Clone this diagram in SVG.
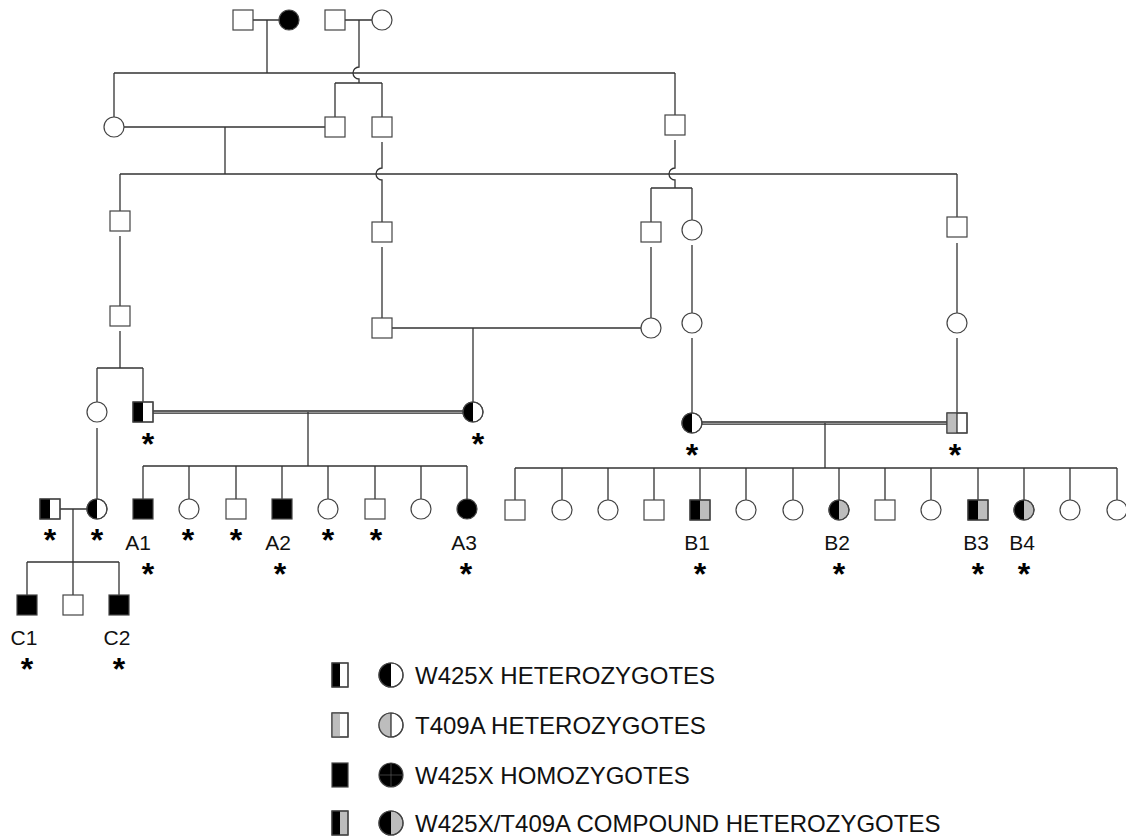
<svg xmlns="http://www.w3.org/2000/svg" width="1126" height="840" viewBox="0 0 1126 840">
<style>
.ln{stroke:#333;stroke-width:1.3;fill:none}
.dl{stroke:#2a2a2a;stroke-width:1.3;fill:none}
.o{stroke:#444;stroke-width:1.2;fill:#fff}
.on{stroke:#444;stroke-width:1.2;fill:none}
.b{fill:#000}
.g{fill:#bdbdbd}
.lbl{font-family:"Liberation Sans",Arial,Helvetica,sans-serif;font-size:21px;fill:#111;text-anchor:middle}
.ast{font-family:"Liberation Sans",Arial,Helvetica,sans-serif;font-size:32px;font-weight:bold;fill:#000;text-anchor:middle}
.leg{font-family:"Liberation Sans",Arial,Helvetica,sans-serif;font-size:24px;fill:#111}
</style>
<defs>
<g id="sqW"><rect x="-10" y="-10" width="20" height="20" class="o"/></g>
<g id="sqB"><rect x="-10" y="-10" width="20" height="20" class="o" style="fill:#000"/></g>
<g id="sqH"><rect x="-10" y="-10" width="20" height="20" class="o"/><rect x="-10" y="-10" width="10" height="20" class="b"/><rect x="-10" y="-10" width="20" height="20" class="on"/></g>
<g id="sqT"><rect x="-10" y="-10" width="20" height="20" class="o"/><rect x="-10" y="-10" width="10" height="20" class="g"/><rect x="-10" y="-10" width="20" height="20" class="on"/></g>
<g id="sqC"><rect x="-10" y="-10" width="20" height="20" class="o" style="fill:#bdbdbd"/><rect x="-10" y="-10" width="10" height="20" class="b"/><rect x="-10" y="-10" width="20" height="20" class="on"/></g>
<g id="ciW"><circle r="10" class="o"/></g>
<g id="ciB"><circle r="10" class="o" style="fill:#000"/></g>
<g id="ciH"><circle r="10" class="o"/><path d="M0,-10 A10,10 0 0 0 0,10 Z" class="b"/><circle r="10" class="on"/></g>
<g id="ciC"><circle r="10" class="o" style="fill:#bdbdbd"/><path d="M0,-10 A10,10 0 0 0 0,10 Z" class="b"/><circle r="10" class="on"/></g>
</defs>

<g id="connectors">
<path class="ln" d="M253,20 H279 M345,20 H372 M267,20 V73"/>
<path class="ln" d="M359,20 V67 A6,6 0 0 0 359,79 V83"/>
<path class="ln" d="M114,73 H675 M335,83 H382 M335,83 V117 M382,83 V117 M114,73 V117 M675,73 V115"/>
<path class="ln" d="M124,127 H325 M225,127 V174 M120,174 H957"/>
<path class="ln" d="M382,142 V168 A6,6 0 0 0 382,180 V222"/>
<path class="ln" d="M675,140 V168 A6,6 0 0 0 675,180 V188"/>
<path class="ln" d="M651,188 H692 M651,188 V222 M692,188 V220"/>
<path class="ln" d="M120,174 V211 M120,236 V306 M120,331 V368 M97,368 H143 M97,368 V402 M143,368 V402"/>
<path class="ln" d="M382,247 V318 M651,247 V318 M392,328 H641 M473,328 V402"/>
<path class="ln" d="M692,245 V313 M692,338 V413 M957,174 V217 M957,243 V313 M957,338 V433"/>
<path class="dl" d="M153,411 H463 M153,413.2 H463 M702,422 H947 M702,424.2 H947"/>
<path class="ln" d="M308,412 V466 M143,466 H467 M143,466 V499 M189,466 V499 M236,466 V499 M282,466 V499 M328,466 V499 M375,466 V499 M421,466 V499 M467,466 V499"/>
<path class="ln" d="M97,428 V499 M60,509 H87 M73,509 V562 M27,562 H119 M27,562 V595 M73,562 V595 M119,562 V595"/>
<path class="ln" d="M825,423 V468 M515,468 H1117 M515,468 V500 M562,468 V500 M608,468 V500 M654,468 V500 M700,468 V500 M746,468 V500 M793,468 V500 M839,468 V500 M885,468 V500 M931,468 V500 M978,468 V500 M1024,468 V500 M1070,468 V500 M1117,468 V500"/>
</g>

<g id="I-1"><use href="#sqW" x="243" y="20"/></g>
<g id="I-2"><use href="#ciB" x="289" y="20"/></g>
<g id="I-3"><use href="#sqW" x="335" y="20"/></g>
<g id="I-4"><use href="#ciW" x="382" y="20"/></g>

<g id="II-1"><use href="#ciW" x="114" y="127"/></g>
<g id="II-2"><use href="#sqW" x="335" y="127"/></g>
<g id="II-3"><use href="#sqW" x="382" y="127"/></g>
<g id="II-4"><use href="#sqW" x="675" y="125"/></g>

<g id="III-1"><use href="#sqW" x="120" y="221"/></g>
<g id="III-2"><use href="#sqW" x="382" y="232"/></g>
<g id="III-3"><use href="#sqW" x="651" y="232"/></g>
<g id="III-4"><use href="#ciW" x="692" y="230"/></g>
<g id="III-5"><use href="#sqW" x="957" y="227"/></g>

<g id="IV-1"><use href="#sqW" x="120" y="316"/></g>
<g id="IV-2"><use href="#sqW" x="382" y="328"/></g>
<g id="IV-3"><use href="#ciW" x="651" y="328"/></g>
<g id="IV-4"><use href="#ciW" x="692" y="323"/></g>
<g id="IV-5"><use href="#ciW" x="957" y="323"/></g>

<g id="V-1"><use href="#ciW" x="97" y="412"/></g>
<g id="V-2"><use href="#sqH" x="143" y="412"/><text class="ast" x="148" y="455">*</text></g>
<g id="V-3"><use href="#ciH" x="473" y="412"/><text class="ast" x="478" y="455">*</text></g>
<g id="V-4"><use href="#ciH" x="692" y="423"/><text class="ast" x="692" y="466">*</text></g>
<g id="V-5"><use href="#sqT" x="957" y="423"/><line x1="957" y1="413" x2="957" y2="433" class="ln"/><text class="ast" x="955" y="466">*</text></g>

<g id="VI-1"><use href="#sqH" x="50" y="509"/><text class="ast" x="50" y="551">*</text></g>
<g id="VI-2"><use href="#ciH" x="97" y="509"/><text class="ast" x="97" y="551">*</text></g>
<g id="A1"><use href="#sqB" x="143" y="509"/><text class="lbl" x="138" y="550">A1</text><text class="ast" x="148" y="585">*</text></g>
<g id="VI-4"><use href="#ciW" x="189" y="509"/><text class="ast" x="188" y="551">*</text></g>
<g id="VI-5"><use href="#sqW" x="236" y="509"/><text class="ast" x="236" y="551">*</text></g>
<g id="A2"><use href="#sqB" x="282" y="509"/><text class="lbl" x="278" y="550">A2</text><text class="ast" x="280" y="585">*</text></g>
<g id="VI-7"><use href="#ciW" x="328" y="509"/><text class="ast" x="328" y="551">*</text></g>
<g id="VI-8"><use href="#sqW" x="375" y="509"/><text class="ast" x="376" y="551">*</text></g>
<g id="VI-9"><use href="#ciW" x="421" y="509"/></g>
<g id="A3"><use href="#ciB" x="467" y="509"/><text class="lbl" x="464" y="550">A3</text><text class="ast" x="466" y="585">*</text></g>

<g id="B-s1"><use href="#sqW" x="515" y="510"/></g>
<g id="B-s2"><use href="#ciW" x="562" y="510"/></g>
<g id="B-s3"><use href="#ciW" x="608" y="510"/></g>
<g id="B-s4"><use href="#sqW" x="654" y="510"/></g>
<g id="B1"><use href="#sqC" x="700" y="510"/><text class="lbl" x="697" y="550">B1</text><text class="ast" x="700" y="585">*</text></g>
<g id="B-s6"><use href="#ciW" x="746" y="510"/></g>
<g id="B-s7"><use href="#ciW" x="793" y="510"/></g>
<g id="B2"><use href="#ciC" x="839" y="510"/><text class="lbl" x="837" y="550">B2</text><text class="ast" x="839" y="585">*</text></g>
<g id="B-s9"><use href="#sqW" x="885" y="510"/></g>
<g id="B-s10"><use href="#ciW" x="931" y="510"/></g>
<g id="B3"><use href="#sqC" x="978" y="510"/><text class="lbl" x="976" y="550">B3</text><text class="ast" x="978" y="585">*</text></g>
<g id="B4"><use href="#ciC" x="1024" y="510"/><text class="lbl" x="1022" y="550">B4</text><text class="ast" x="1024" y="585">*</text></g>
<g id="B-s13"><use href="#ciW" x="1070" y="510"/></g>
<g id="B-s14"><use href="#ciW" x="1117" y="510"/></g>

<g id="C1"><use href="#sqB" x="27" y="605"/><text class="lbl" x="24" y="645">C1</text><text class="ast" x="27" y="680">*</text></g>
<g id="C-2"><use href="#sqW" x="73" y="605"/></g>
<g id="C2"><use href="#sqB" x="119" y="605"/><text class="lbl" x="117" y="645">C2</text><text class="ast" x="119" y="680">*</text></g>

<g id="legend">
<g id="leg1">
<rect x="332" y="663" width="16" height="24" class="o"/><rect x="332" y="663" width="8" height="24" class="b"/><rect x="332" y="663" width="16" height="24" class="on"/>
<circle cx="391" cy="675" r="12" class="o"/><path d="M391,663 A12,12 0 0 0 391,687 Z" class="b"/><circle cx="391" cy="675" r="12" class="on"/>
<text class="leg" x="415" y="684">W425X HETEROZYGOTES</text>
</g>
<g id="leg2">
<rect x="332" y="713" width="16" height="24" class="o"/><rect x="332" y="713" width="8" height="24" class="g"/><rect x="332" y="713" width="16" height="24" class="on"/>
<circle cx="391" cy="725" r="12" class="o"/><path d="M391,713 A12,12 0 0 0 391,737 Z" class="g"/><line x1="391" y1="713" x2="391" y2="737" class="ln"/><circle cx="391" cy="725" r="12" class="on"/>
<text class="leg" x="415" y="734">T409A HETEROZYGOTES</text>
</g>
<g id="leg3">
<rect x="332" y="763" width="16" height="24" class="o" style="fill:#000"/>
<circle cx="391" cy="775" r="12" class="o" style="fill:#000"/><path d="M391,764 V786 M380,775 H402" stroke="#666" stroke-width="0.6"/>
<text class="leg" x="415" y="784">W425X HOMOZYGOTES</text>
</g>
<g id="leg4">
<rect x="332" y="811" width="16" height="24" class="o" style="fill:#bdbdbd"/><rect x="332" y="811" width="8" height="24" class="b"/><rect x="332" y="811" width="16" height="24" class="on"/>
<circle cx="391" cy="823" r="12" class="o" style="fill:#bdbdbd"/><path d="M391,811 A12,12 0 0 0 391,835 Z" class="b"/><circle cx="391" cy="823" r="12" class="on"/>
<text class="leg" x="415" y="832">W425X/T409A COMPOUND HETEROZYGOTES</text>
</g>
</g>
</svg>
